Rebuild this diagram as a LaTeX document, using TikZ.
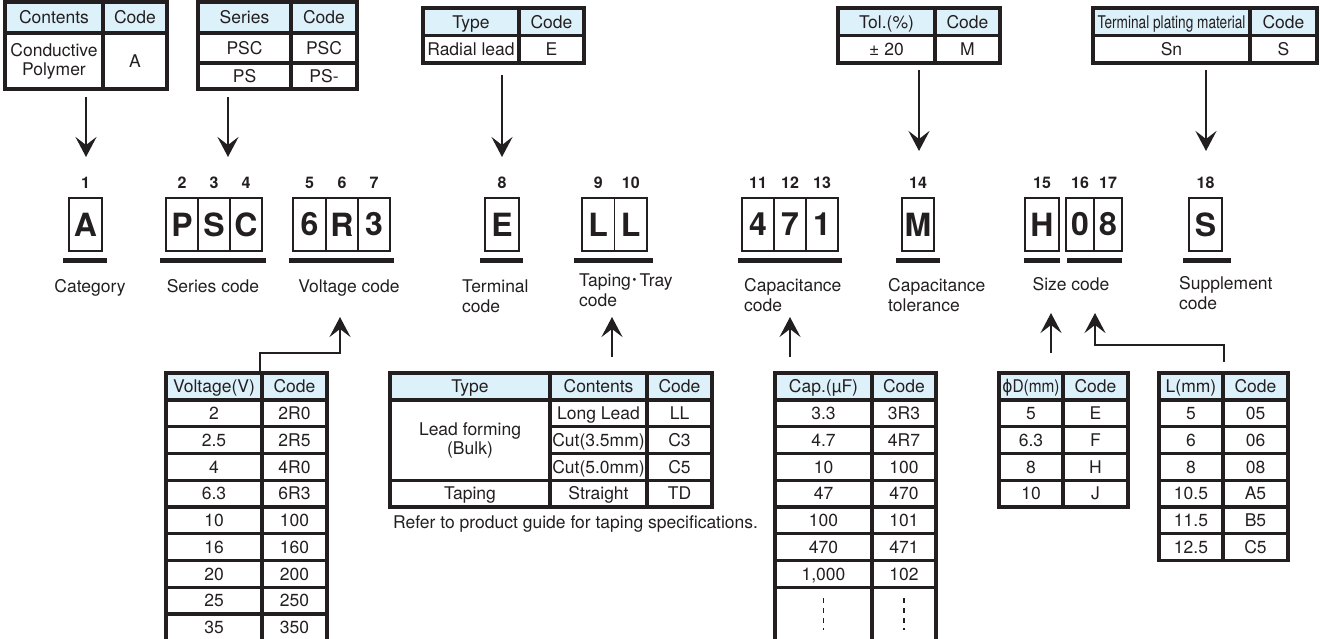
\documentclass[tikz,border=0pt]{standalone}
\usepackage{fontspec}
\setmainfont{TeX Gyre Heros}
\newfontfamily\cjkfont{Noto Sans CJK JP}
\newfontfamily\symfont{DejaVu Sans}
\usetikzlibrary{arrows.meta,calc}
\definecolor{LineClr}{RGB}{35,31,32}
\definecolor{HeadClr}{RGB}{221,241,250}

\begin{document}
\begin{tikzpicture}[x=1pt,y=-1pt,
  every node/.style={inner sep=0pt,text=LineClr},
  tbl/.style={line width=3.2pt,draw=LineClr},
  hd/.style={fill=HeadClr},
  txt/.style={font=\fontsize{17.5}{20}\selectfont,text height=12.6pt,text depth=0pt},
  mtxt/.style={font=\fontsize{17.5}{19}\selectfont,align=center},
  lbl/.style={font=\fontsize{17.5}{20}\selectfont,align=left},
  dig/.style={draw=LineClr,line width=1.5pt,minimum height=53pt,font=\fontsize{32}{32}\selectfont\bfseries},
  num/.style={font=\fontsize{16}{16}\selectfont\bfseries},
  bar/.style={line width=5pt,draw=LineClr},
  arr/.style={line width=2.5pt,draw=LineClr,-{Stealth[length=20pt,width=21pt,inset=8pt]}},
  dots/.style={line width=1.5pt,draw=LineClr,dash pattern=on 5pt off 5pt}]

\useasboundingbox (0,0) rectangle (1320,639);

\fill[hd] (5,2) rectangle (167,33);
\draw[tbl] (5,2) rectangle (167,89) (5,33) -- (167,33) (103,2) -- (103,89);
\node[txt] (conH) at (54,17.5) {Contents};
\node[txt] (conHc) at (135,17.5) {Code};
\node[mtxt] (conV) at (54,61) {Conductive\\Polymer};
\node[txt] (conC) at (135,61) {A};

\fill[hd] (198,2) rectangle (357,33);
\draw[tbl] (198,2) rectangle (357,89) (198,33) -- (357,33) (198,63) -- (357,63) (291,2) -- (291,89);
\node[txt] (serH) at (244.5,17.5) {Series};
\node[txt] (serHc) at (324,17.5) {Code};
\foreach \s/\c/\y [count=\i] in {PSC/PSC/48,PS/PS-/76}
  {\node[txt] (ser\i) at (244.5,\y) {\s};
   \node[txt] (serc\i) at (324,\y) {\c};}

\fill[hd] (423,8) rectangle (584,35.5);
\draw[tbl] (423,8) rectangle (584,63) (423,35.5) -- (584,35.5) (519,8) -- (519,63);
\node[txt] (typH) at (471,21.75) {Type};
\node[txt] (typHc) at (551.5,21.75) {Code};
\node[txt] (typV) at (471,49.25) {Radial lead};
\node[txt] (typC) at (551.5,49.25) {E};

\fill[hd] (838,8) rectangle (1000,35.5);
\draw[tbl] (838,8) rectangle (1000,63) (838,35.5) -- (1000,35.5) (935,8) -- (935,63);
\node[txt] (tolH) at (886.5,21.75) {Tol.(\%)};
\node[txt] (tolHc) at (967.5,21.75) {Code};
\node[txt] (tolV) at (886.5,49.25) {± 20};
\node[txt] (tolC) at (967.5,49.25) {M};

\fill[hd] (1093,8) rectangle (1317,35.5);
\draw[tbl] (1093,8) rectangle (1317,63) (1093,35.5) -- (1317,35.5) (1250,8) -- (1250,63);
\node[txt] (plaH) at (1171.5,21.75) {\scalebox{0.78}[1]{Terminal plating material}};
\node[txt] (plaHc) at (1283.5,21.75) {Code};
\node[txt] (plaV) at (1171.5,49.25) {Sn};
\node[txt] (plaC) at (1283.5,49.25) {S};

\coordinate (catOut) at (86,97);   \coordinate (catIn) at (86,157);
\coordinate (serOut) at (228,97);  \coordinate (serIn) at (228,157);
\coordinate (typOut) at (502,75);  \coordinate (typIn) at (502,157);
\coordinate (tolOut) at (919,70);  \coordinate (tolIn) at (919,151);
\coordinate (plaOut) at (1206,70); \coordinate (plaIn) at (1206,151);
\foreach \p in {cat,ser,typ,tol,pla}
  \draw[arr] (\p Out) -- (\p In);

\foreach \t/\x/\w [count=\i] in {A/85.5/33,P/182/32,S/214/32,C/246/32,6/309.5/33,R/342/32,3/374/32,
    E/502/34,L/598.25/32.5,L/630.75/32.5,4/758/32,7/790/32,1/822/32,M/918/32,H/1042/34,0/1080/28,8/1108/28,S/1205.5/33}
  {\node[num] (num\i) at (\x,183) {\i};
   \node[dig,minimum width=\w pt] (box\i) at (\x,224.5) {\t};}

\foreach \a/\b in {63/107,160/266,289/394,480/523,574/653,738/842,896/940,1024/1060,1067/1122,1183/1231}
  \draw[bar] (\a,260) -- (\b,260);

\node[txt] (labCat) at (90,286) {Category};
\node[txt] (labSer) at (213,286) {Series code};
\node[txt] (labVol) at (349,286) {Voltage code};
\node[lbl,anchor=west] (labTer) at (462,296) {Terminal\\code};
\node[lbl,anchor=west] (labTap) at (579,290) {Taping{\cjkfont ･}Tray\\code};
\node[lbl,anchor=west] (labCap) at (744,295) {Capacitance\\code};
\node[lbl,anchor=west] (labTol) at (888,295) {Capacitance\\tolerance};
\node[txt] (labSiz) at (1071,284) {Size code};
\node[lbl,anchor=west] (labSup) at (1179,293) {Supplement\\code};

\coordinate (volOut) at (260,373);  \coordinate (volIn) at (340,317);
\coordinate (tapOut) at (612,357);  \coordinate (tapIn) at (612,317);
\coordinate (capOut) at (790,357);  \coordinate (capIn) at (790,317);
\coordinate (diaOut) at (1051,353); \coordinate (diaIn) at (1051,313);
\coordinate (lenOut) at (1224,362); \coordinate (lenIn) at (1095,313);
\draw[arr] (volOut) -- ++(0,-20) -| (volIn);
\draw[arr] (tapOut) -- (tapIn);
\draw[arr] (capOut) -- (capIn);
\draw[arr] (diaOut) -- (diaIn);
\draw[arr] (lenOut) -- ++(0,-17) -| (lenIn);

\fill[hd] (166,373) rectangle (327,400);
\draw[tbl] (166,645) -- (166,373) -- (327,373) -- (327,645) (262,373) -- (262,645);
\foreach \i in {0,...,8}
  \draw[tbl] (166,{400+26.75*\i}) -- (327,{400+26.75*\i});
\node[txt] (volH) at (214,386.5) {Voltage(V)};
\node[txt] (volHc) at (294.5,386.5) {Code};
\foreach \v/\c [count=\i] in {2/2R0,2.5/2R5,4/4R0,6.3/6R3,10/100,16/160,20/200,25/250,35/350}
  {\node[txt] (vol\i) at (214,{386.625+26.75*\i}) {\v};
   \node[txt] (volc\i) at (294.5,{386.625+26.75*\i}) {\c};}

\fill[hd] (390,373) rectangle (712,400);
\draw[tbl] (390,373) rectangle (712,507) (390,400) -- (712,400) (390,480.25) -- (712,480.25)
  (550,426.75) -- (712,426.75) (550,453.5) -- (712,453.5) (550,373) -- (550,507) (647,373) -- (647,507);
\node[txt] (tapH) at (470,386.5) {Type};
\node[txt] (tapHs) at (598.5,386.5) {Contents};
\node[txt] (tapHc) at (679.5,386.5) {Code};
\node[mtxt] (tapLead) at (470,440.1) {Lead forming\\(Bulk)};
\foreach \s/\c [count=\i] in {Long Lead/LL,Cut(3.5mm)/C3,Cut(5.0mm)/C5}
  {\node[txt] (tap\i) at (598.5,{386.625+26.75*\i}) {\s};
   \node[txt] (tapc\i) at (679.5,{386.625+26.75*\i}) {\c};}
\node[txt] (tapT) at (470,493.6) {Taping};
\node[txt] (tapTs) at (598.5,493.6) {Straight};
\node[txt] (tapTc) at (679.5,493.6) {TD};
\node[txt,anchor=west] (tapNote) at (393,522) {Refer to product guide for taping specifications.};

\fill[hd] (775,373) rectangle (936,400);
\draw[tbl] (775,645) -- (775,373) -- (936,373) -- (936,645) (872,373) -- (872,645);
\foreach \i in {0,...,7}
  \draw[tbl] (775,{400+26.75*\i}) -- (936,{400+26.75*\i});
\node[txt] (capH) at (823.5,386.5) {Cap.(µF)};
\node[txt] (capHc) at (904,386.5) {Code};
\foreach \v/\c [count=\i] in {3.3/3R3,4.7/4R7,10/100,47/470,100/101,470/471,1{,}000/102}
  {\node[txt] (cap\i) at (823.5,{386.625+26.75*\i}) {\v};
   \node[txt] (capc\i) at (904,{386.625+26.75*\i}) {\c};}
\draw[dots] (823.5,598) -- (823.5,630) (904,598) -- (904,630);

\fill[hd] (999,373) rectangle (1128,400);
\draw[tbl] (999,373) rectangle (1128,507) (1063,373) -- (1063,507);
\foreach \i in {0,...,3}
  \draw[tbl] (999,{400+26.75*\i}) -- (1128,{400+26.75*\i});
\node[txt] (diaH) at (1031,386.5) {\scalebox{0.88}[1]{{\symfont ϕ}D(mm)}};
\node[txt] (diaHc) at (1095.5,386.5) {Code};
\foreach \v/\c [count=\i] in {5/E,6.3/F,8/H,10/J}
  {\node[txt] (dia\i) at (1031,{386.625+26.75*\i}) {\v};
   \node[txt] (diac\i) at (1095.5,{386.625+26.75*\i}) {\c};}

\fill[hd] (1159,373) rectangle (1288,400);
\draw[tbl] (1159,373) rectangle (1288,560.5) (1223,373) -- (1223,560.5);
\foreach \i in {0,...,5}
  \draw[tbl] (1159,{400+26.75*\i}) -- (1288,{400+26.75*\i});
\node[txt] (lenH) at (1191,386.5) {L(mm)};
\node[txt] (lenHc) at (1255.5,386.5) {Code};
\foreach \v/\c [count=\i] in {5/05,6/06,8/08,10.5/A5,11.5/B5,12.5/C5}
  {\node[txt] (len\i) at (1191,{386.625+26.75*\i}) {\v};
   \node[txt] (lenc\i) at (1255.5,{386.625+26.75*\i}) {\c};}

\end{tikzpicture}
\end{document}
